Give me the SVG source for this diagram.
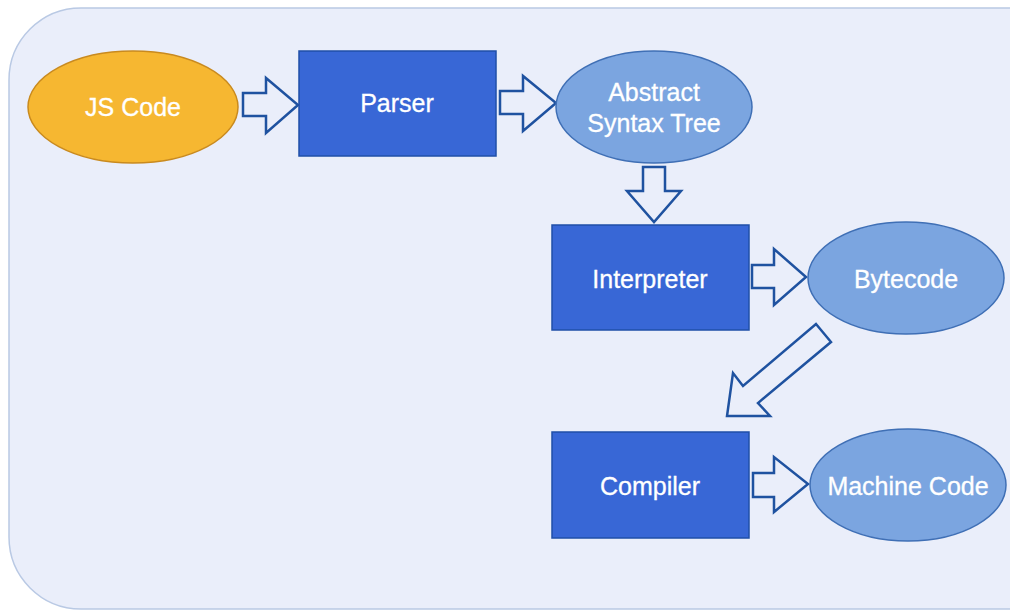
<svg xmlns="http://www.w3.org/2000/svg" width="1010" height="610" viewBox="0 0 1010 610">
  <style>
    .label { font-family: "Liberation Sans", Arial, sans-serif; font-size: 25px; fill: #ffffff; stroke: #ffffff; stroke-width: 0.3; text-anchor: middle; dominant-baseline: central; }
    .box { fill: #3867d6; stroke: #1f4fa8; stroke-width: 1.5; }
    .oval { fill: #7ba5e0; stroke: #3f6fb5; stroke-width: 1.5; }
    .flow { fill: #eaeefa; stroke: #1f52a0; stroke-width: 2.5; stroke-linejoin: miter; }
  </style>

  <!-- panel -->
  <rect x="9" y="8" width="1080" height="601" rx="72" ry="72" fill="#eaeefa" stroke="#b9c9e4" stroke-width="1.5"/>

  <!-- connectors -->
  <g id="connectors">
    <polygon class="flow" points="243,93 266,93 266,78 298,105 266,133 266,116 243,116"/>
    <polygon class="flow" points="500,91 523,91 523,76 556,103 523,131 523,114 500,114"/>
    <polygon class="flow" points="643,167 665,167 665,191 681,191 654,222 627,191 643,191"/>
    <polygon class="flow" points="752,265 774,265 774,249 806,277 774,305 774,288 752,288"/>
    <polygon class="flow" points="816,324 831,342 758,403 770,416 727,416 733,373 743,386"/>
    <polygon class="flow" points="753,473 774,473 774,457 808,484 774,512 774,497 753,497"/>
  </g>

  <!-- nodes -->
  <g id="js-code">
    <ellipse cx="133" cy="107" rx="105" ry="56" fill="#f6b731" stroke="#c98a1e" stroke-width="1.5"/>
    <text class="label" x="133" y="107">JS Code</text>
  </g>
  <g id="parser">
    <rect class="box" x="299" y="51" width="197" height="105"/>
    <text class="label" x="397" y="103">Parser</text>
  </g>
  <g id="ast">
    <ellipse class="oval" cx="654" cy="107" rx="98" ry="56"/>
    <text class="label" x="654" y="92">Abstract</text>
    <text class="label" x="654" y="123">Syntax Tree</text>
  </g>
  <g id="interpreter">
    <rect class="box" x="552" y="225" width="197" height="105"/>
    <text class="label" x="650" y="279">Interpreter</text>
  </g>
  <g id="bytecode">
    <ellipse class="oval" cx="906" cy="278" rx="98" ry="56"/>
    <text class="label" x="906" y="279">Bytecode</text>
  </g>
  <g id="compiler">
    <rect class="box" x="552" y="432" width="197" height="106"/>
    <text class="label" x="650" y="486">Compiler</text>
  </g>
  <g id="machine-code">
    <ellipse class="oval" cx="908" cy="485" rx="98" ry="56"/>
    <text class="label" x="908" y="486">Machine Code</text>
  </g>
</svg>
